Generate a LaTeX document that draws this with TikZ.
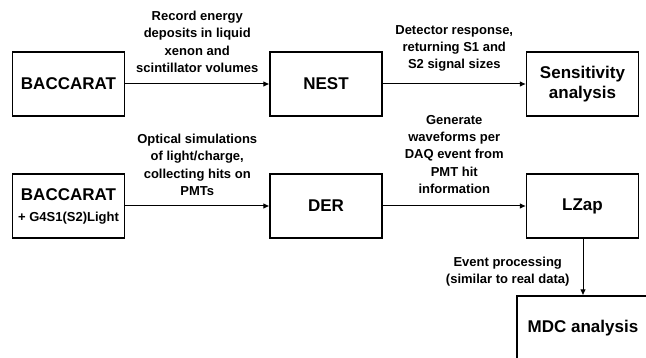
\documentclass[tikz,border=0pt]{standalone}
\usepackage{fontspec}
\setmainfont{Liberation Sans}
\usetikzlibrary{arrows.meta}
\tikzset{
  box/.style={draw=black, line width=1.1pt, minimum width=112pt, minimum height=64pt, inner sep=2pt, align=center, font=\fontsize{17}{20}\selectfont\bfseries},
  lbl/.style={align=center, inner sep=0pt, font=\fontsize{13}{17.3}\selectfont\bfseries},
  arr/.style={line width=1pt, -{Latex[length=6pt,width=5.5pt]}}
}
\begin{document}
\begin{tikzpicture}[x=1pt,y=-1pt]
\useasboundingbox (0,0) rectangle (646,358);
\node[box] (bac1) at (68.5,84) {BACCARAT};
\node[box] (nest) at (326,84) {NEST};
\node[box] (sens) at (582.5,84) {Sensitivity\\analysis};
\node[box] (bac2) at (68.5,206) {BACCARAT\\[1pt]{\fontsize{13}{15}\selectfont + G4S1(S2)Light}};
\node[box] (der) at (326,206) {DER};
\node[box] (lzap) at (582.5,206) {LZap};
\node[box, minimum width=132pt] (mdc) at (583,328) {MDC analysis};
\draw[arr] (bac1) -- node[lbl, above=11pt] {Record energy\\deposits in liquid\\xenon and\\scintillator volumes} (nest);
\draw[arr] (nest) -- node[lbl, above=12pt] {Detector response,\\returning S1 and\\S2 signal sizes} (sens);
\draw[arr] (bac2) -- node[lbl, above=10pt] {Optical simulations\\of light/charge,\\collecting hits on\\PMTs} (der);
\draw[arr] (der) -- node[lbl, above=12pt] {Generate\\waveforms per\\DAQ event from\\PMT hit\\information} (lzap);
\draw[arr] (lzap.south -| mdc.north) -- node[lbl, pos=0.58, left=13pt] {Event processing\\(similar to real data)} (mdc.north);
\end{tikzpicture}
\end{document}
